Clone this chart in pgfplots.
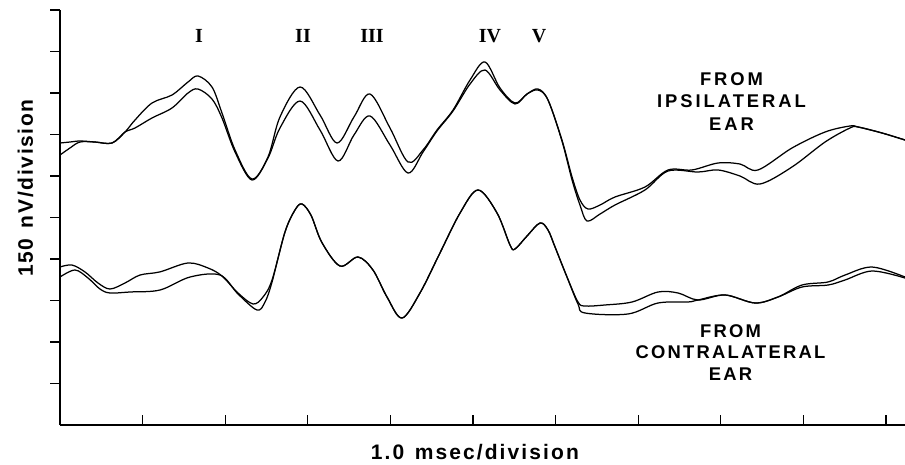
\documentclass[border=0pt]{standalone}
\usepackage{fontspec}
\setmainfont{Liberation Sans}
\newfontfamily\xlabfont[LetterSpace=10]{Liberation Sans Bold}
\newfontfamily\ylabfont[LetterSpace=8]{Liberation Sans Bold}
\newfontfamily\annfont[LetterSpace=12]{Liberation Sans Bold}
\newfontfamily\ipsifont[LetterSpace=16]{Liberation Sans Bold}
\newfontfamily\serfont{Liberation Serif}
\usepackage{pgfplots}
\usepackage{pgfplotstable}
\pgfplotsset{compat=1.18}

% Ipsilateral ear, run 1
\pgfplotstableread{
x y
0 6.795
0.121 6.819
0.242 6.843
0.424 6.819
0.630 6.795
0.787 7.060
0.908 7.349
1.114 7.759
1.356 7.952
1.550 8.265
1.671 8.410
1.840 8.145
1.961 7.518
2.119 6.627
2.324 5.928
2.518 6.458
2.663 7.422
2.906 8.145
3.148 7.470
3.354 6.795
3.559 7.422
3.753 7.976
3.995 7.157
4.213 6.337
4.395 6.627
4.564 7.108
4.758 7.590
4.964 8.313
5.145 8.747
5.327 8.120
5.508 7.759
5.654 7.976
5.787 8.096
5.908 7.831
6.077 6.867
6.199 5.976
6.295 5.422
6.392 5.205
6.538 5.301
6.719 5.494
7.082 5.735
7.361 6.145
7.651 6.145
7.966 6.313
8.232 6.289
8.450 6.145
8.862 6.675
9.262 7.060
9.564 7.205
9.661 7.181
9.952 7.036
10.230 6.867
}\ipsiA

% Ipsilateral ear, run 2
\pgfplotstableread{
x y
0 6.506
0.121 6.675
0.242 6.819
0.424 6.819
0.630 6.795
0.787 7.060
0.908 7.157
1.114 7.398
1.356 7.639
1.550 8.000
1.671 8.096
1.840 7.855
1.961 7.398
2.119 6.578
2.324 5.904
2.518 6.434
2.663 7.157
2.906 7.807
3.148 7.108
3.366 6.361
3.559 6.988
3.753 7.446
3.995 6.747
4.213 6.072
4.395 6.578
4.564 7.084
4.758 7.566
4.964 8.217
5.145 8.554
5.327 8.072
5.508 7.735
5.654 7.976
5.787 8.072
5.908 7.831
6.077 6.843
6.199 5.904
6.295 5.301
6.380 4.916
6.538 5.084
6.719 5.301
7.082 5.663
7.361 6.120
7.724 6.096
7.966 6.145
8.232 6.000
8.475 5.807
8.862 6.217
9.262 6.819
9.564 7.157
9.661 7.181
9.952 7.036
10.230 6.867
}\ipsiB

% Contralateral ear, run 1
\pgfplotstableread{
x y
0 3.807
0.145 3.855
0.303 3.687
0.460 3.422
0.605 3.277
0.787 3.422
0.969 3.614
1.211 3.690
1.550 3.904
1.792 3.783
1.961 3.590
2.155 3.181
2.337 2.916
2.458 3.084
2.567 3.494
2.724 4.651
2.845 5.181
2.930 5.325
3.040 5.050
3.170 4.400
3.390 3.831
3.608 4.048
3.789 3.735
3.959 3.084
4.140 2.578
4.358 3.181
4.600 4.145
4.843 5.108
5.061 5.663
5.291 5.108
5.448 4.337
5.508 4.241
5.654 4.554
5.811 4.867
5.908 4.699
5.993 4.289
6.138 3.566
6.271 2.964
6.356 2.867
6.598 2.892
6.925 2.964
7.240 3.205
7.482 3.181
7.724 3.012
8.051 3.133
8.414 2.940
8.692 3.084
8.983 3.373
9.298 3.446
9.504 3.614
9.831 3.807
10.230 3.566
}\contraA

% Contralateral ear, run 2
\pgfplotstableread{
x y
0 3.566
0.182 3.735
0.339 3.542
0.484 3.277
0.605 3.181
0.847 3.205
1.211 3.253
1.574 3.566
1.937 3.614
2.155 3.157
2.385 2.771
2.482 2.964
2.567 3.446
2.724 4.651
2.845 5.181
2.930 5.325
3.040 5.050
3.170 4.400
3.390 3.831
3.608 4.048
3.789 3.735
3.959 3.084
4.140 2.578
4.358 3.181
4.600 4.145
4.843 5.108
5.061 5.663
5.291 5.108
5.448 4.337
5.508 4.241
5.654 4.554
5.811 4.867
5.908 4.699
5.993 4.289
6.138 3.566
6.271 2.916
6.356 2.699
6.877 2.675
7.240 2.940
7.603 2.964
7.724 3.012
8.051 3.133
8.414 2.940
8.692 3.084
8.983 3.325
9.298 3.373
9.504 3.494
9.831 3.711
10.230 3.542
}\contraB

\begin{document}
\begin{tikzpicture}
\useasboundingbox (0,0) rectangle (905pt,464pt);
\begin{axis}[
  at={(60pt,39pt)}, anchor=south west,
  scale only axis,
  width=845pt, height=415pt,
  xmin=0, xmax=10.23, ymin=0, ymax=10,
  axis x line*=bottom, axis y line*=left,
  axis line style={-, line width=1.2pt, black},
  xtick={1,2,...,10}, ytick={1,2,...,10},
  xticklabels={}, yticklabels={},
  xtick align=inside, ytick align=outside,
  major tick length=10pt,
  tick style={line width=1.1pt, black},
  xlabel={\fontsize{21}{26}\selectfont\xlabfont 1.0\hspace{0.5em}msec/division},
  xlabel style={at={(axis description cs:0.491,-0.083)}, anchor=base},
  ylabel={\fontsize{21}{26}\selectfont\ylabfont 150\hspace{0.5em}nV/division},
  ylabel style={at={(axis description cs:-0.032,0.571)}, anchor=base},
  clip=false,
]
\addplot[black, line width=1.25pt, smooth, tension=0.55, no markers] table[x=x,y=y]{\ipsiA};
\addplot[black, line width=1.25pt, smooth, tension=0.55, no markers] table[x=x,y=y]{\ipsiB};
\addplot[black, line width=1.25pt, smooth, tension=0.55, no markers] table[x=x,y=y]{\contraA};
\addplot[black, line width=1.25pt, smooth, tension=0.55, no markers] table[x=x,y=y]{\contraB};

\begin{scope}[every node/.style={anchor=base, font=\fontsize{20}{24}\selectfont\serfont\bfseries}]
\node at (axis cs:1.683,9.205) {I};
\node at (axis cs:2.942,9.205) {II};
\node at (axis cs:3.777,9.205) {III};
\node at (axis cs:5.206,9.205) {IV};
\node at (axis cs:5.799,9.205) {V};
\end{scope}

\begin{scope}[every node/.style={anchor=base, font=\fontsize{18.4}{22}\selectfont\annfont}]
\node[font=\fontsize{18.4}{22}\selectfont\ipsifont] at (axis cs:8.13,8.169) {FROM};
\node[font=\fontsize{18.4}{22}\selectfont\ipsifont] at (axis cs:8.13,7.639) {IPSILATERAL};
\node[font=\fontsize{18.4}{22}\selectfont\ipsifont] at (axis cs:8.13,7.108) {EAR};
\node at (axis cs:8.117,2.120) {FROM};
\node at (axis cs:8.117,1.614) {CONTRALATERAL};
\node at (axis cs:8.117,1.084) {EAR};
\end{scope}
\end{axis}
\end{tikzpicture}
\end{document}
